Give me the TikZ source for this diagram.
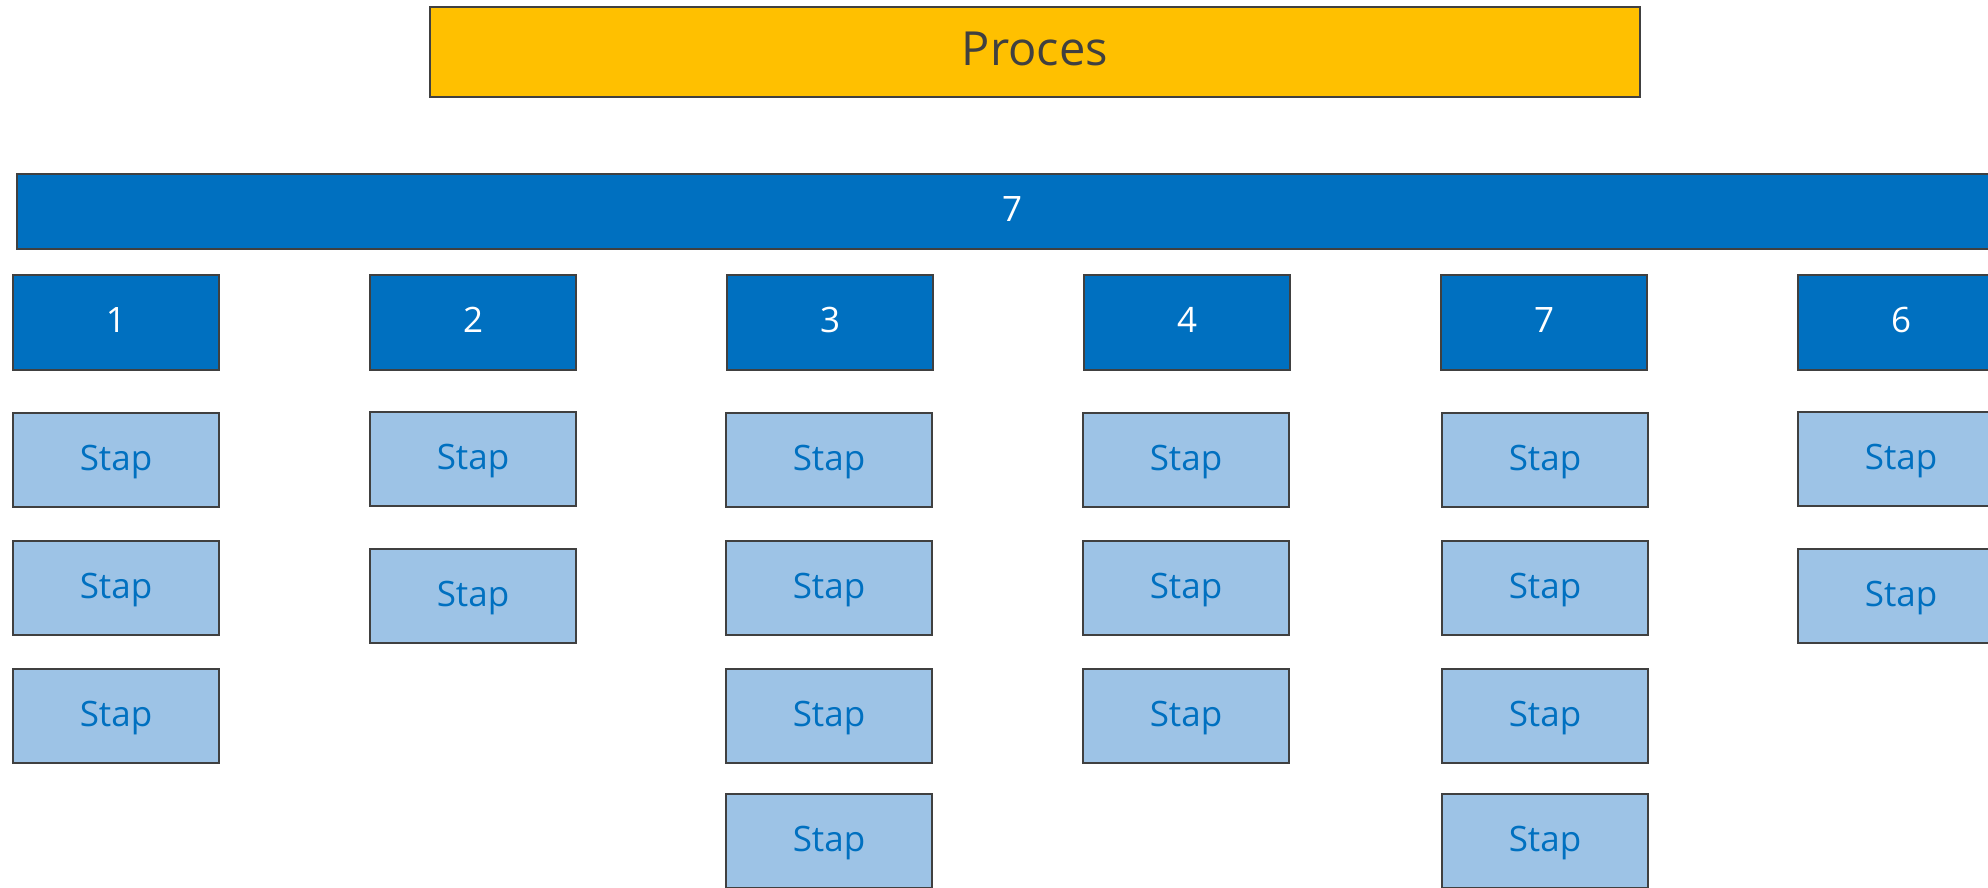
\documentclass[tikz,border=0pt]{standalone}
\usepackage{fontspec}
\setmainfont{Open Sans}
\definecolor{dkblue}{HTML}{0070C0}
\definecolor{ltblue}{HTML}{9DC3E6}
\definecolor{gold}{HTML}{FFC000}
\definecolor{edge}{HTML}{404040}
\begin{document}
\begin{tikzpicture}[x=1pt,y=-1pt,
  box/.style={draw=edge,line width=2pt,inner sep=0pt,outer sep=0pt,anchor=center},
  txt/.style={font=\fontsize{35}{38}\selectfont,text height=25pt,text depth=5pt},
  title/.style={box,fill=gold,text=edge,minimum width=1210pt,minimum height=90pt,font=\fontsize{47}{50}\selectfont,text height=34pt,text depth=6pt},
  bar/.style={box,txt,fill=dkblue,text=white,minimum width=1990pt,minimum height=75pt},
  head/.style={box,txt,fill=dkblue,text=white,minimum width=206pt,minimum height=95pt},
  stapbox/.style={box,txt,fill=ltblue,text=dkblue,minimum width=206pt,minimum height=94pt}]
\useasboundingbox (0,0) rectangle (1988,888);
\clip (0,0) rectangle (1988,888);
\fill[white] (0,0) rectangle (1988,888);
\node[title] (proces) at (1035,52) {Proces};
\node[bar] (bar) at (1012,211.5) {7};
% headers
\node[head] (h1) at (116,322.5) {1};
\node[head] (h2) at (473,322.5) {2};
\node[head] (h3) at (830,322.5) {3};
\node[head] (h4) at (1187,322.5) {4};
\node[head] (h5) at (1544,322.5) {7};
\node[head] (h6) at (1901,322.5) {6};
% column 1
\node[stapbox] (s11) at (116,460) {Stap};
\node[stapbox] (s12) at (116,588) {Stap};
\node[stapbox] (s13) at (116,716) {Stap};
% column 2
\node[stapbox] (s21) at (473,459) {Stap};
\node[stapbox] (s22) at (473,596) {Stap};
% column 3
\node[stapbox] (s31) at (829,460) {Stap};
\node[stapbox] (s32) at (829,588) {Stap};
\node[stapbox] (s33) at (829,716) {Stap};
\node[stapbox] (s34) at (829,841) {Stap};
% column 4
\node[stapbox] (s41) at (1186,460) {Stap};
\node[stapbox] (s42) at (1186,588) {Stap};
\node[stapbox] (s43) at (1186,716) {Stap};
% column 5
\node[stapbox] (s51) at (1545,460) {Stap};
\node[stapbox] (s52) at (1545,588) {Stap};
\node[stapbox] (s53) at (1545,716) {Stap};
\node[stapbox] (s54) at (1545,841) {Stap};
% column 6
\node[stapbox] (s61) at (1901,459) {Stap};
\node[stapbox] (s62) at (1901,596) {Stap};
\end{tikzpicture}
\end{document}
